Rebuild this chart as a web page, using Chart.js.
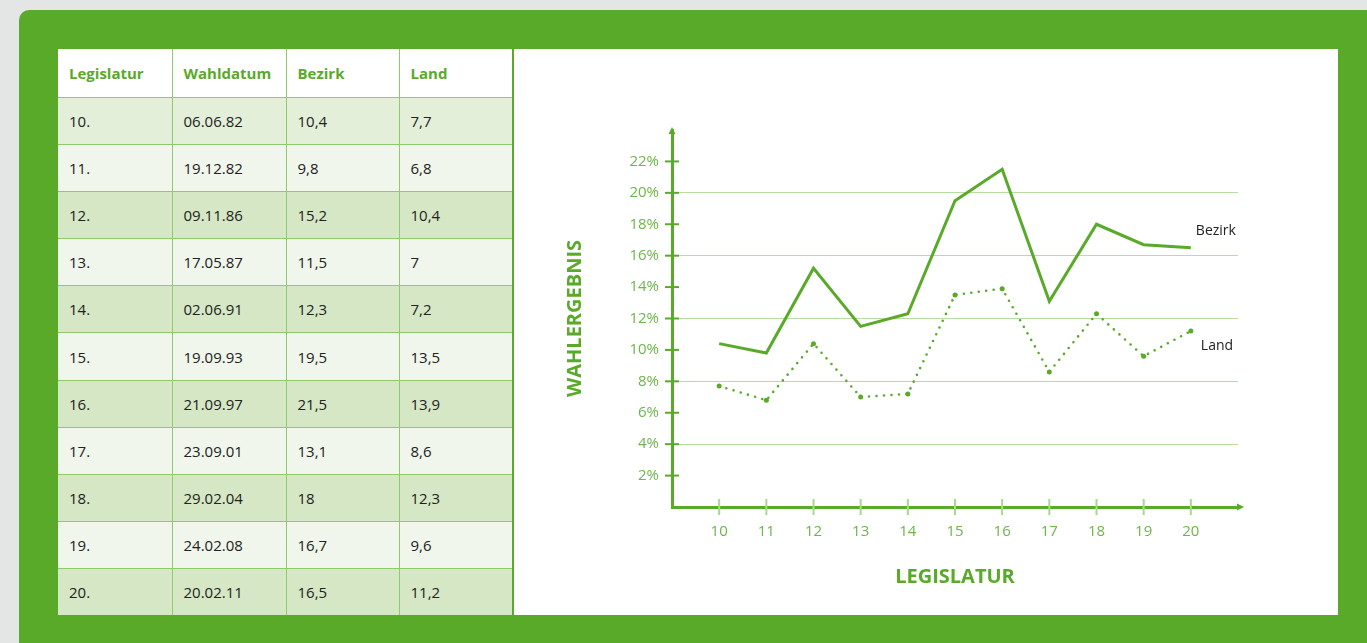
<!DOCTYPE html>
<html>
<head>
  <meta charset="UTF-8" />
  <title>Wahlergebnis Bezirk / Land</title>
  <script src="https://cdn.jsdelivr.net/npm/chart.js"></script>
  <style>
    body { margin: 0; background: #e4e5e5; width: 1367px; height: 643px; overflow: hidden; font-family: 'Open Sans', sans-serif; }
    #panel { position: absolute; left: 19px; top: 10px; width: 1420px; height: 700px; background: #5aaa2a; border-radius: 10px; }
    #sheet { position: absolute; left: 58px; top: 49px; width: 1280px; height: 566px; background: #fff; }
    table { position: absolute; left: 0; top: 0; width: 455px; border-collapse: collapse; table-layout: fixed; }
    th, td { border: 1.5px solid #8fca6d; text-align: left; padding: 0 0 0 11px; }
    th { color: #5aaa2a; font-weight: 700; font-size: 15px; height: 48px; border-top: none; background: #fff; }
    td { color: #222; font-size: 15px; height: 46.1px; }
    th:first-child, td:first-child { border-left: none; }
    th:last-child, td:last-child { border-right: 2.5px solid #5aaa2a; }
    tr:last-child td { border-bottom: none; }
    #chartBox { position: absolute; left: 455px; top: 0; width: 825px; height: 566px; }
  </style>
</head>
<body>
  <div id="panel"></div>
  <div id="sheet">
    <table id="tab">
      <colgroup><col style="width:114px"><col style="width:114px"><col style="width:113px"><col style="width:114px"></colgroup>
      <thead><tr><th>Legislatur</th><th>Wahldatum</th><th>Bezirk</th><th>Land</th></tr></thead>
      <tbody></tbody>
    </table>
    <div id="chartBox"><canvas id="WahlChart"></canvas></div>
  </div>

  <script>
    const legislatur = [10, 11, 12, 13, 14, 15, 16, 17, 18, 19, 20];
    const wahldatum = ['06.06.82', '19.12.82', '09.11.86', '17.05.87', '02.06.91', '19.09.93',
                       '21.09.97', '23.09.01', '29.02.04', '24.02.08', '20.02.11'];
    const bezirk = [10.4, 9.8, 15.2, 11.5, 12.3, 19.5, 21.5, 13.1, 18, 16.7, 16.5];
    const land = [7.7, 6.8, 10.4, 7, 7.2, 13.5, 13.9, 8.6, 12.3, 9.6, 11.2];

    const green = '#5aaa2a';
    const tickGreen = '#6db64a';
    const FONT = "'Open Sans', sans-serif";

    // table
    const de = v => String(v).replace('.', ',');
    const tbody = document.querySelector('#tab tbody');
    legislatur.forEach((l, i) => {
      const tr = document.createElement('tr');
      tr.style.background = i === 0 ? '#e3efd8' : (i % 2 ? '#f0f6eb' : '#d6e7c5');
      [l + '.', wahldatum[i], de(bezirk[i]), de(land[i])].forEach(t => {
        const td = document.createElement('td');
        td.textContent = t;
        tr.appendChild(td);
      });
      tbody.appendChild(tr);
    });

    // arrows, crossing tick marks, line end labels
    const endLabel = { Bezirk: [5, -17], Land: [10, 15] };
    const axisDecor = {
      id: 'axisDecor',
      afterDraw(chart) {
        const { ctx, chartArea: a, scales: { x, y } } = chart;
        ctx.save();
        ctx.lineWidth = 2;
        ctx.strokeStyle = green;
        for (let v = 2; v <= 22; v += 2) {
          const py = y.getPixelForValue(v);
          ctx.beginPath(); ctx.moveTo(a.left - 7, py); ctx.lineTo(a.left + 7, py); ctx.stroke();
        }
        ctx.strokeStyle = '#a8d790';
        legislatur.forEach(v => {
          const px = x.getPixelForValue(v);
          ctx.beginPath(); ctx.moveTo(px, a.bottom - 8); ctx.lineTo(px, a.bottom + 8); ctx.stroke();
        });
        // arrow heads
        ctx.fillStyle = green;
        ctx.strokeStyle = green;
        ctx.lineWidth = 3;
        ctx.beginPath(); ctx.moveTo(a.right, a.bottom); ctx.lineTo(a.right + 2, a.bottom); ctx.stroke();
        ctx.beginPath();
        ctx.moveTo(a.left, a.top - 3); ctx.lineTo(a.left - 3.5, a.top + 4); ctx.lineTo(a.left + 3.5, a.top + 4);
        ctx.closePath(); ctx.fill();
        ctx.beginPath();
        ctx.moveTo(a.right + 6, a.bottom); ctx.lineTo(a.right - 1, a.bottom - 3.5); ctx.lineTo(a.right - 1, a.bottom + 3.5);
        ctx.closePath(); ctx.fill();
        // labels at line ends
        ctx.fillStyle = '#222';
        ctx.font = '14px ' + FONT;
        ctx.textAlign = 'left';
        ctx.textBaseline = 'middle';
        chart.data.datasets.forEach(ds => {
          const last = ds.data[ds.data.length - 1];
          const off = endLabel[ds.label];
          ctx.fillText(ds.label, x.getPixelForValue(last.x) + off[0], y.getPixelForValue(last.y) + off[1]);
        });
        ctx.restore();
      }
    };

    const ctx = document.getElementById('WahlChart').getContext('2d');
    new Chart(ctx, {
      type: 'line',
      data: {
        datasets: [{
          label: 'Bezirk',
          data: legislatur.map((l, i) => ({ x: l, y: bezirk[i] })),
          borderColor: green,
          borderWidth: 3,
          pointRadius: 0,
          tension: 0,
        }, {
          label: 'Land',
          data: legislatur.map((l, i) => ({ x: l, y: land[i] })),
          borderColor: green,
          borderWidth: 2.6,
          borderDash: [0, 7.5],
          borderCapStyle: 'round',
          pointRadius: 2.5,
          pointBackgroundColor: green,
          pointBorderWidth: 0,
          tension: 0,
        }]
      },
      options: {
        responsive: true,
        maintainAspectRatio: false,
        animation: false,
        layout: { padding: { left: 0, top: 81, right: 100, bottom: 0 } },
        plugins: { legend: { display: false }, tooltip: { enabled: false } },
        scales: {
          x: {
            type: 'linear', min: 9, max: 21,
            afterFit: s => { s.height = 108; },
            grid: { display: false, drawTicks: false },
            border: { display: true, color: green, width: 3 },
            ticks: {
              stepSize: 1, padding: 16, color: tickGreen, font: { family: FONT, size: 15 },
              callback: v => (v >= 10 && v <= 20 ? String(v) : '')
            },
            title: { display: true, text: 'LEGISLATUR', color: green, font: { family: FONT, size: 20, weight: 'bold' }, padding: { top: 0, bottom: 26 } }
          },
          y: {
            min: 0, max: 24,
            afterFit: s => { s.width = 159; },
            grid: {
              drawTicks: false, lineWidth: 1,
              color: c => (c.tick && c.tick.value % 4 === 0 && c.tick.value > 0 && c.tick.value < 24 ? '#b9dca3' : 'rgba(0,0,0,0)')
            },
            border: { display: true, color: green, width: 3 },
            ticks: {
              stepSize: 2, padding: 13, color: tickGreen, font: { family: FONT, size: 15 },
              callback: v => (v > 0 && v < 24 ? v + '%' : '')
            },
            title: { display: true, text: 'WAHLERGEBNIS', color: green, font: { family: FONT, size: 20, weight: 'bold' }, padding: { top: 50, bottom: 0 } }
          }
        }
      },
      plugins: [axisDecor]
    });
  </script>
</body>
</html>
